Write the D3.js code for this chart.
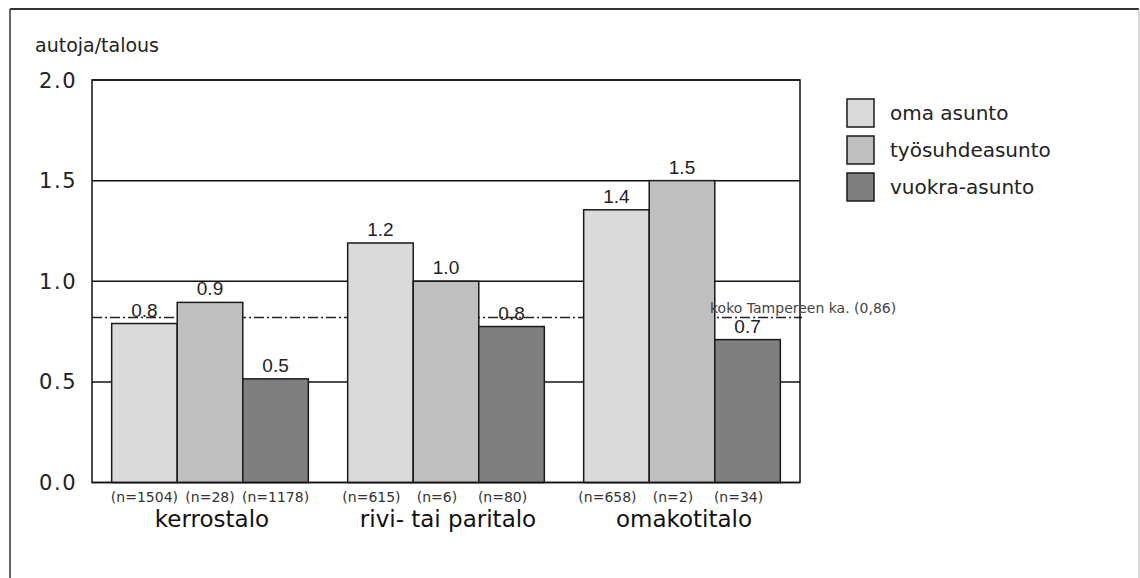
<!DOCTYPE html>
<html><head><meta charset="utf-8">
<script src="https://cdn.jsdelivr.net/npm/d3@7"></script>
<style>body{margin:0;background:#fff}</style>
</head><body>
<svg id="c" width="1140" height="578"></svg>
<script>
const categories = ["kerrostalo", "rivi- tai paritalo", "omakotitalo"];
const seriesNames = ["oma asunto", "työsuhdeasunto", "vuokra-asunto"];
const omaAsunto = [0.79, 1.19, 1.355];
const tyosuhdeasunto = [0.895, 1.0, 1.5];
const vuokraAsunto = [0.515, 0.775, 0.71];
const nOma = ["(n=1504)", "(n=615)", "(n=658)"];
const nTyo = ["(n=28)", "(n=6)", "(n=2)"];
const nVuokra = ["(n=1178)", "(n=80)", "(n=34)"];
const yTicks = [0, 0.5, 1.0, 1.5, 2.0];
const averageValue = 0.82;
const averageLabel = "koko Tampereen ka. (0,86)";
const yTitle = "autoja/talous";
const colors = ["#dadada", "#bfbfbf", "#7f7f7f"];

const values = [omaAsunto, tyosuhdeasunto, vuokraAsunto];
const nLabels = [nOma, nTyo, nVuokra];

const svg = d3.select("#c");
const M = {left: 92, right: 800, top: 80, bottom: 482.5};
const y = d3.scaleLinear().domain([0, 2]).range([M.bottom, M.top]);
const x0 = d3.scaleBand().domain(categories).range([M.left, M.right]).padding(0);
const x1 = d3.scaleBand().domain(seriesNames).range([0, x0.bandwidth()]).paddingInner(0).paddingOuter(0.3);

// outer frame
svg.append("line").attr("x1", 10).attr("x2", 1139).attr("y1", 9).attr("y2", 9).attr("stroke", "#333").attr("stroke-width", 2);
svg.append("line").attr("x1", 10).attr("x2", 10).attr("y1", 9).attr("y2", 578).attr("stroke", "#333").attr("stroke-width", 1.5);
svg.append("line").attr("x1", 1139).attr("x2", 1139).attr("y1", 9).attr("y2", 578).attr("stroke", "#ccc").attr("stroke-width", 1.5);

// y title
svg.append("text").attr("x", 35).attr("y", 52).text(yTitle)
  .attr("font-family", "DejaVu Sans").attr("font-size", 19).attr("fill", "#222");

// gridlines
svg.append("g").selectAll("line").data(yTicks).join("line")
  .attr("x1", M.left).attr("x2", M.right)
  .attr("y1", d => y(d)).attr("y2", d => y(d))
  .attr("stroke", "#111").attr("stroke-width", 1.5);

// tick labels
svg.append("g").selectAll("text").data(yTicks).join("text")
  .attr("x", 77).attr("y", d => y(d)).attr("dy", "0.36em")
  .attr("text-anchor", "end").text(d => d3.format(".1f")(d))
  .attr("font-family", "DejaVu Sans").attr("font-size", 21).attr("letter-spacing", 1.5).attr("fill", "#222");

// average line (behind bars)
svg.append("line").attr("x1", M.left).attr("x2", M.right + 2)
  .attr("y1", y(averageValue)).attr("y2", y(averageValue))
  .attr("stroke", "#222").attr("stroke-width", 1.3).attr("stroke-dasharray", "10,3,2,3");

// bars
const flat = [];
categories.forEach((c, ci) => seriesNames.forEach((s, si) => flat.push({c, s, si, v: values[si][ci], n: nLabels[si][ci]})));

svg.append("g").selectAll("rect").data(flat).join("rect")
  .attr("x", d => x0(d.c) + x1(d.s)).attr("width", x1.bandwidth())
  .attr("y", d => y(d.v)).attr("height", d => y(0) - y(d.v))
  .attr("fill", d => colors[d.si]).attr("stroke", "#1a1a1a").attr("stroke-width", 1.5);

// plot box
svg.append("rect").attr("x", M.left).attr("y", M.top).attr("width", M.right - M.left).attr("height", M.bottom - M.top)
  .attr("fill", "none").attr("stroke", "#111").attr("stroke-width", 1.5);

// value labels
svg.append("g").selectAll("text").data(flat).join("text")
  .attr("x", d => x0(d.c) + x1(d.s) + x1.bandwidth() / 2).attr("y", d => y(d.v) - 7)
  .attr("text-anchor", "middle").text(d => d3.format(".1f")(d.v))
  .attr("font-family", "Liberation Sans").attr("font-size", 19).attr("fill", "#222");

// n labels
svg.append("g").selectAll("text").data(flat).join("text")
  .attr("x", d => x0(d.c) + x1(d.s) + x1.bandwidth() / 2 - (d.c === categories[0] ? 0 : 9)).attr("y", 502)
  .attr("text-anchor", "middle").text(d => d.n)
  .attr("font-family", "DejaVu Sans").attr("font-size", 14).attr("fill", "#333");

// category labels
svg.append("g").selectAll("text").data(categories).join("text")
  .attr("x", d => x0(d) + x0.bandwidth() / 2 + 2).attr("y", 527)
  .attr("text-anchor", "middle").text(d => d)
  .attr("font-family", "DejaVu Sans").attr("font-size", 23).attr("fill", "#111");

// average label
svg.append("text").attr("x", 710).attr("y", y(averageValue) - 4).text(averageLabel)
  .attr("font-family", "DejaVu Sans").attr("font-size", 14).attr("fill", "#444");

// legend
const lg = svg.append("g").selectAll("g").data(seriesNames).join("g")
  .attr("transform", (d, i) => `translate(847, ${99 + i * 37})`);
lg.append("rect").attr("width", 27).attr("height", 28)
  .attr("fill", (d, i) => colors[i]).attr("stroke", "#1a1a1a").attr("stroke-width", 1.5);
lg.append("text").attr("x", 43).attr("y", 14).attr("dy", "0.35em").text(d => d)
  .attr("font-family", "DejaVu Sans").attr("font-size", 20).attr("fill", "#222");
</script>
</body></html>
